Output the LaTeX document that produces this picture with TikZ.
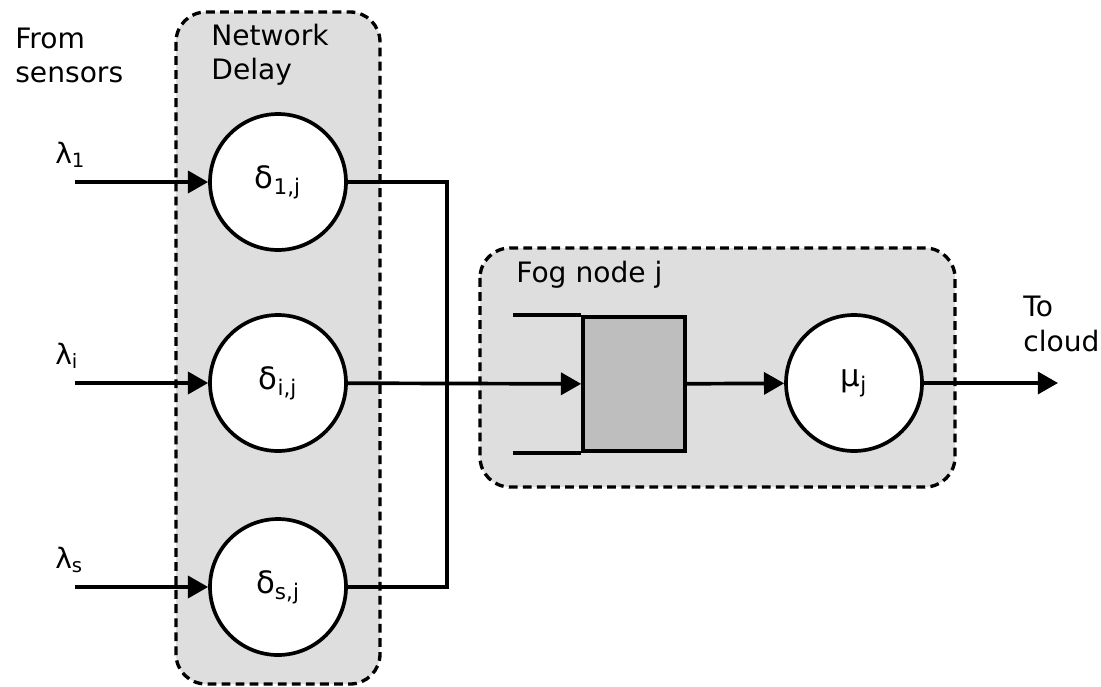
\documentclass[tikz,border=0pt]{standalone}
\usepackage{fontspec}
\setmainfont{DejaVu Sans}
\usetikzlibrary{arrows.meta}
\definecolor{boxgray}{HTML}{DEDEDE}
\definecolor{queuegray}{HTML}{BEBEBE}
\tikzset{
  server/.style={draw,circle,fill=white,line width=2.1pt,minimum size=2.72cm,inner sep=0pt,font=\fontsize{17.5}{21}\selectfont},
  group/.style={draw,dash pattern=on 5pt off 3pt,fill=boxgray,line width=1.9pt,rounded corners=0.6cm},
  wire/.style={line width=2.1pt},
  flow/.style={wire,-{Triangle[length=11.5pt,width=12.5pt]}},
  lbl/.style={inner sep=0pt,align=left,font=\fontsize{16}{19.8}\selectfont}
}
\begin{document}
\begin{tikzpicture}[x=0.02cm,y=-0.02cm]
  \useasboundingbox (0,0) rectangle (1101,686);
  % groups
  \draw[group] (176,12) rectangle (380,684);
  \draw[group] (480,248) rectangle (955,487);
  \node[lbl,anchor=base west] (from) at (15,83) {From\\sensors};
  \node[lbl,anchor=base west] (netlbl) at (211,80) {Network\\Delay};
  \node[lbl,anchor=base west] (foglbl) at (516,282) {Fog node j};
  \node[lbl,anchor=base west] (tocloud) at (1023,351) {To\\cloud};
  % delay servers
  \foreach \n/\y in {1/182,i/383,s/587} {
      \node[server] (d\n) at (278,\y) {δ\textsubscript{\n,j}};
      \coordinate (in\n) at (75,\y);
      \node[lbl,anchor=base west] (lam\n) at (55,{\y-19}) {λ\textsubscript{\n}};
      \draw[flow] (in\n) -- (d\n);
  }
  % fog node
  \node[draw,wire,fill=queuegray,minimum width=2.04cm,minimum height=2.68cm,inner sep=0pt] (queue) at (634,384) {};
  \draw[wire] (queue.north west) -- ++(-68,0);
  \draw[wire] (queue.south west) -- ++(-68,0);
  \node[server] (mu) at (854,383) {μ\textsubscript{j}};
  \coordinate (bus) at (447,383);
  \coordinate (cloud) at (1058,383);
  \draw[wire] (d1.east) -| (bus) |- (ds.east);
  \draw[flow] (di) -- (queue);
  \draw[flow] (queue) -- (mu);
  \draw[flow] (mu) -- (cloud);
\end{tikzpicture}
\end{document}
